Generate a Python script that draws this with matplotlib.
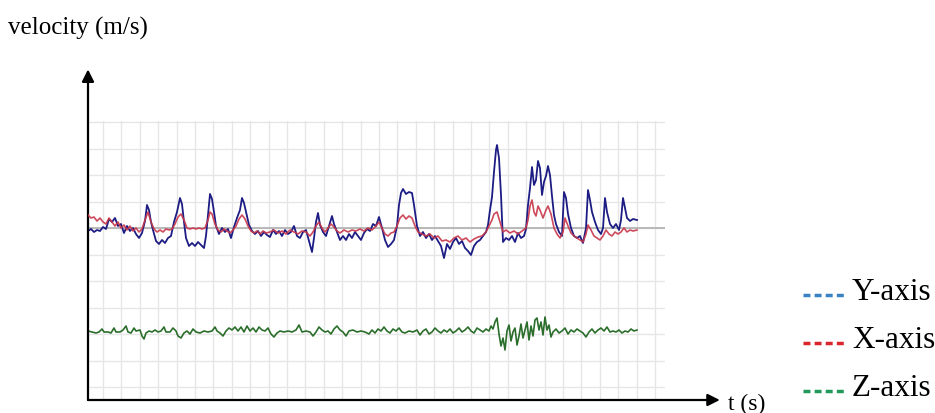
import matplotlib
matplotlib.use("Agg")
import matplotlib.pyplot as plt
import numpy as np
from matplotlib.lines import Line2D

# readings (time, velocity) in chart units
y_t = [0, 3, 6, 9, 12, 15, 18, 21, 24, 27, 30, 33, 36, 39, 42, 45, 48, 51, 54, 57, 59, 61, 63, 65, 68, 71, 74, 77, 80, 83,
       86, 89, 92, 94, 96, 98, 101, 104, 107, 110, 113, 116, 118, 120, 122, 124, 126, 128, 131, 134, 137, 140, 143, 146,
       149, 152, 154, 156, 158, 161, 164, 167, 170, 173, 176, 179, 182, 185, 188, 191, 194, 197, 200, 203, 206, 209, 212,
       215, 218, 221, 224, 226, 228, 230, 232, 235, 238, 241, 244, 246, 249, 252, 255, 258, 261, 264, 267, 270, 273, 276,
       279, 282, 285, 288, 291, 294, 297, 300, 303, 306, 309, 311, 313, 315, 318, 321, 324, 326, 329, 332, 335, 338, 341,
       344, 347, 350, 353, 356, 359, 362, 365, 368, 371, 374, 377, 380, 383, 386, 389, 392, 395, 398, 400, 402, 404, 406,
       408, 409, 411, 413, 415, 418, 421, 424, 427, 430, 433, 436, 438, 440, 442, 444, 446, 448, 450, 452, 454, 456, 458,
       460, 462, 464, 466, 468, 471, 474, 476, 478, 480, 483, 486, 489, 492, 495, 498, 500, 502, 504, 507, 510, 513, 515,
       517, 519, 522, 525, 528, 531, 533, 535, 537, 539, 542, 545, 549]
y_v = [169, 171, 168, 170, 169, 173, 171, 181, 178, 182, 174, 176, 167, 174, 169, 172, 166, 162, 167, 179, 195, 190, 178,
       170, 159, 156, 160, 157, 162, 164, 178, 188, 202, 196, 178, 162, 154, 157, 154, 158, 155, 152, 164, 185, 206, 201,
       188, 174, 166, 172, 168, 171, 162, 173, 182, 190, 202, 197, 188, 175, 169, 166, 169, 164, 168, 165, 163, 170, 166,
       169, 164, 170, 166, 168, 174, 164, 162, 168, 170, 159, 148, 162, 178, 187, 175, 168, 164, 174, 184, 176, 168, 160,
       164, 160, 166, 162, 168, 164, 160, 167, 171, 169, 176, 174, 183, 172, 160, 153, 156, 160, 174, 195, 207, 211, 206,
       208, 207, 195, 174, 164, 168, 162, 166, 160, 164, 159, 154, 142, 156, 151, 158, 162, 156, 159, 152, 149, 145, 154,
       158, 160, 164, 168, 175, 190, 203, 228, 250, 255, 242, 205, 158, 162, 160, 164, 158, 167, 162, 164, 171, 195, 212,
       233, 215, 220, 239, 232, 205, 218, 224, 234, 225, 204, 185, 176, 168, 164, 208, 202, 186, 172, 164, 162, 164, 157,
       172, 210, 200, 188, 178, 170, 166, 172, 202, 188, 176, 172, 176, 170, 180, 202, 192, 182, 179, 181, 180]

x_t = [0, 3, 6, 9, 12, 15, 18, 21, 24, 27, 30, 33, 36, 39, 42, 45, 48, 51, 54, 57, 60, 63, 66, 69, 72, 75, 78, 81, 84, 87,
       90, 93, 96, 99, 102, 105, 108, 111, 114, 117, 120, 122, 124, 127, 130, 133, 136, 139, 142, 145, 148, 151, 154, 157,
       160, 163, 166, 169, 172, 175, 178, 182, 186, 190, 194, 198, 202, 206, 210, 214, 218, 222, 225, 228, 231, 234, 237,
       240, 243, 246, 249, 252, 256, 260, 264, 268, 272, 276, 280, 284, 288, 291, 294, 297, 300, 303, 306, 309, 312, 315,
       318, 321, 324, 327, 330, 334, 338, 342, 346, 350, 354, 358, 362, 366, 370, 374, 378, 382, 386, 390, 394, 398, 401,
       404, 406, 409, 412, 415, 418, 422, 426, 430, 434, 438, 440, 442, 444, 446, 448, 450, 452, 455, 458, 460, 463, 466,
       469, 472, 475, 477, 480, 483, 486, 489, 492, 495, 498, 500, 503, 506, 509, 512, 515, 518, 521, 524, 527, 530, 533,
       536, 539, 542, 545, 549]
x_v = [185, 182, 183, 179, 182, 178, 176, 182, 178, 174, 178, 172, 175, 170, 174, 169, 172, 168, 171, 180, 188, 178, 171,
       168, 170, 168, 171, 170, 171, 176, 183, 186, 180, 172, 171, 172, 171, 172, 171, 172, 180, 188, 186, 176, 170, 168,
       171, 169, 167, 170, 174, 181, 185, 181, 174, 169, 167, 169, 166, 169, 167, 168, 170, 167, 169, 166, 170, 168, 166,
       169, 168, 164, 168, 174, 178, 172, 168, 172, 176, 173, 169, 167, 170, 168, 170, 169, 171, 169, 172, 170, 174, 178,
       172, 166, 164, 167, 168, 174, 182, 185, 181, 184, 182, 174, 168, 166, 164, 166, 162, 164, 159, 160, 158, 162, 164,
       160, 162, 158, 161, 163, 164, 168, 174, 180, 186, 188, 178, 168, 170, 167, 169, 166, 169, 172, 180, 194, 200, 188,
       184, 194, 190, 182, 190, 194, 186, 172, 166, 162, 168, 182, 174, 167, 164, 162, 160, 158, 166, 175, 170, 164, 162,
       160, 164, 170, 166, 164, 168, 166, 168, 172, 168, 170, 169, 170]

z_t = [0, 4, 8, 11, 14, 16, 20, 23, 26, 28, 32, 35, 38, 40, 43, 46, 48, 52, 54, 56, 58, 61, 64, 67, 70, 73, 76, 78, 82, 85,
       88, 90, 93, 96, 99, 102, 105, 108, 112, 116, 120, 124, 127, 129, 132, 135, 138, 141, 144, 147, 150, 153, 156, 159,
       162, 165, 168, 171, 174, 177, 180, 183, 186, 189, 192, 196, 200, 204, 208, 211, 214, 218, 222, 225, 228, 231, 234,
       237, 240, 243, 246, 249, 252, 255, 258, 261, 265, 269, 273, 277, 281, 284, 287, 290, 293, 296, 299, 302, 305, 308,
       311, 314, 317, 321, 325, 329, 332, 335, 338, 341, 344, 347, 350, 353, 356, 359, 362, 365, 368, 371, 374, 377, 380,
       383, 386, 389, 392, 395, 398, 401, 403, 405, 407, 409, 411, 413, 415, 417, 419, 421, 423, 425, 427, 429, 431, 433,
       435, 437, 439, 441, 443, 445, 447, 449, 451, 453, 455, 457, 459, 461, 463, 465, 468, 471, 474, 477, 480, 483, 486,
       489, 492, 495, 498, 501, 504, 507, 510, 513, 516, 519, 522, 525, 528, 531, 534, 537, 540, 543, 546, 549]
z_v = [69, 68, 67, 68, 71, 68, 68, 67, 72, 68, 68, 70, 74, 68, 67, 72, 69, 70, 64, 61, 67, 69, 68, 70, 68, 69, 73, 68, 68,
       72, 69, 64, 62, 67, 69, 66, 71, 68, 67, 69, 68, 69, 73, 69, 67, 64, 69, 72, 70, 73, 69, 73, 68, 74, 69, 72, 68, 73,
       70, 69, 72, 66, 63, 67, 69, 68, 69, 68, 70, 75, 68, 69, 68, 64, 68, 73, 70, 68, 69, 66, 71, 74, 70, 68, 64, 69, 70,
       68, 69, 68, 66, 70, 67, 71, 69, 73, 69, 67, 71, 69, 72, 68, 67, 69, 68, 70, 65, 69, 71, 66, 68, 72, 69, 67, 70, 68,
       71, 67, 69, 72, 68, 70, 73, 69, 67, 72, 70, 68, 71, 69, 74, 71, 78, 82, 66, 54, 62, 50, 69, 75, 59, 68, 72, 55, 64,
       76, 62, 70, 78, 60, 74, 64, 80, 82, 70, 78, 65, 83, 70, 75, 63, 68, 71, 67, 69, 72, 66, 70, 68, 71, 69, 67, 63, 68,
       71, 67, 70, 72, 69, 73, 68, 69, 68, 70, 67, 69, 68, 71, 69, 70]

labels = ["Y-axis", "X-axis", "Z-axis"]
legend_colors = ["#3a82c4", "#d8262c", "#22995a"]

W, H = 935, 413
fig = plt.figure(figsize=(W / 100, H / 100), dpi=100)
ax = fig.add_axes([88 / W, 13 / H, 577 / W, 279 / H])
ax.set_xlim(0, 577)
ax.set_ylim(0, 279)

# grid
for gx in np.arange(15, 577, 18.4):
    ax.axvline(gx, color="#e6e6e6", lw=1, zorder=0)
for gy in np.arange(13, 280, 26.5):
    ax.axhline(gy, color="#e6e6e6", lw=1, zorder=0)
ax.axhline(172, color="#b4b4b4", lw=1.3, zorder=1)

ax.plot(y_t, y_v, color="#1c1c84", lw=1.3, zorder=3)
ax.plot(x_t, x_v, color="#c8364a", lw=1.2, alpha=0.9, zorder=4)
ax.plot(z_t, z_v, color="#2b6e2b", lw=1.2, zorder=3)

for s in ax.spines.values():
    s.set_visible(False)
ax.set_xticks([])
ax.set_yticks([])

arrow = dict(arrowstyle="-|>", color="black", lw=1.6, mutation_scale=18, shrinkA=0, shrinkB=0)
ax.annotate("", xy=(0, 1.185), xytext=(0, 0), xycoords="axes fraction", arrowprops=arrow, annotation_clip=False)
ax.annotate("", xy=(1.095, 0), xytext=(0, 0), xycoords="axes fraction", arrowprops=arrow, annotation_clip=False)

serif = "Liberation Serif"
fig.text(8 / W, 1 - 28 / H, "velocity (m/s)", family=serif, fontsize=18, va="center", ha="left")
fig.text(728 / W, 1 - 404 / H, "t (s)", family=serif, fontsize=17, va="center", ha="left")

for i, (lab, c) in enumerate(zip(labels, legend_colors)):
    yc = 292 + 48 * i
    fig.add_artist(Line2D([803 / W, 845 / W], [1 - (yc + 3) / H, 1 - (yc + 3) / H], transform=fig.transFigure,
                          color=c, lw=2.5, linestyle=(0, (2, 1.2))))
    fig.text(852 / W, 1 - yc / H, lab, family=serif, fontsize=22.5, va="center", ha="left")

fig.savefig("out.png", dpi=100)
